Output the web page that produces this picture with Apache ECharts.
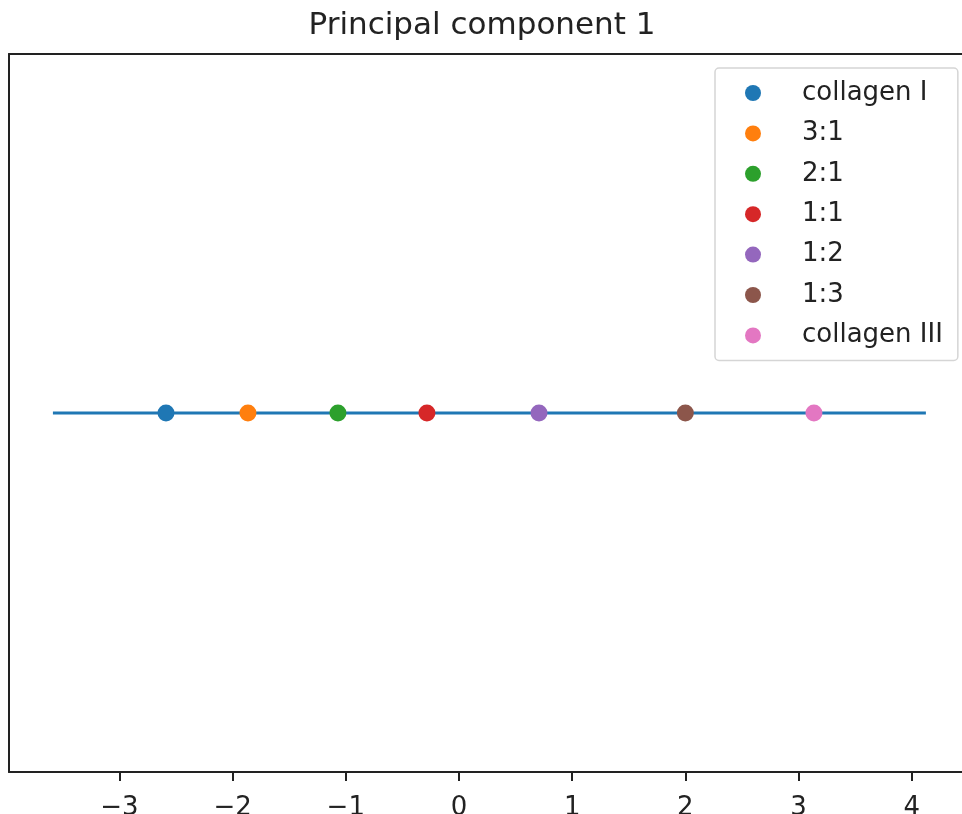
<!DOCTYPE html>
<html>
<head>
<meta charset="utf-8">
<script src="https://cdn.jsdelivr.net/npm/echarts@6/dist/echarts.min.js"></script>
<style>
  html, body { margin: 0; padding: 0; background: #fff; }
  #chart { width: 962px; height: 814px; }
</style>
</head>
<body>
<div id="chart"></div>
<script>
// Mixture ratios and their score on the first principal component
const groups = ['collagen I', '3:1', '2:1', '1:1', '1:2', '1:3', 'collagen III'];
const pc1Scores = [-2.588, -1.864, -1.069, -0.283, 0.707, 2.0, 3.136];
const groupColors = ['#1f77b4', '#ff7f0e', '#2ca02c', '#d62728', '#9467bd', '#8c564b', '#e377c2'];
// Extent of the baseline drawn through the scores
const baselineX = [-3.587, 4.125];
const xTicks = [-3, -2, -1, 0, 1, 2, 3, 4];

const font = '"DejaVu Sans", sans-serif';
const ink = '#222';

const chart = echarts.init(document.getElementById('chart'), null, { renderer: 'canvas' });

const series = [{
  type: 'line',
  name: 'baseline',
  data: baselineX.map(x => [x, 0]),
  showSymbol: false,
  symbol: 'none',
  lineStyle: { color: '#1f77b4', width: 3 },
  silent: true,
  z: 1
}];
groups.forEach((g, i) => {
  series.push({
    type: 'scatter',
    name: g,
    data: [[pc1Scores[i], 0]],
    symbol: 'circle',
    symbolSize: 17,
    itemStyle: { color: groupColors[i], opacity: 1 },
    z: 3
  });
});

chart.setOption({
  animation: false,
  backgroundColor: '#fff',
  title: {
    text: 'Principal component 1',
    left: 477,
    top: 5,
    textAlign: 'center',
    textStyle: { fontFamily: font, fontSize: 31, fontWeight: 'normal', color: ink }
  },
  legend: {
    data: groups,
    orient: 'vertical',
    left: 715,
    top: 68,
    padding: [11, 15, 11, 30],
    itemGap: 12.4,
    itemWidth: 16,
    itemHeight: 16,
    icon: 'circle',
    borderColor: '#d5d5d5',
    borderWidth: 1.5,
    borderRadius: 4,
    backgroundColor: '#fff',
    textStyle: {
      fontFamily: font, fontSize: 26, color: ink, lineHeight: 28,
      padding: [0, 0, 0, 36]
    }
  },
  grid: { left: 9, right: 0, top: 54, bottom: 42, containLabel: false, outerBoundsMode: 'none' },
  xAxis: [{
    type: 'value',
    min: -3.975,
    max: 4.444,
    interval: 1,
    axisLine: { show: true, onZero: false, lineStyle: { color: ink, width: 2 } },
    axisTick: { show: true, length: 9, lineStyle: { color: ink, width: 2 }, customValues: xTicks },
    axisLabel: {
      customValues: xTicks,
      margin: 23,
      fontFamily: font, fontSize: 26, color: ink,
      formatter: v => (v < 0 ? '\u2212' + Math.abs(v) : String(v))
    },
    splitLine: { show: false }
  }, {
    type: 'value',
    position: 'top',
    min: -3.975,
    max: 4.444,
    axisLine: { show: true, onZero: false, lineStyle: { color: ink, width: 2 } },
    axisTick: { show: false },
    axisLabel: { show: false },
    splitLine: { show: false }
  }],
  yAxis: {
    type: 'value',
    min: -0.055,
    max: 0.055,
    axisLine: { show: true, onZero: false, lineStyle: { color: ink, width: 2 } },
    axisTick: { show: false },
    axisLabel: { show: false },
    splitLine: { show: false }
  },
  series: series
});
</script>
</body>
</html>
